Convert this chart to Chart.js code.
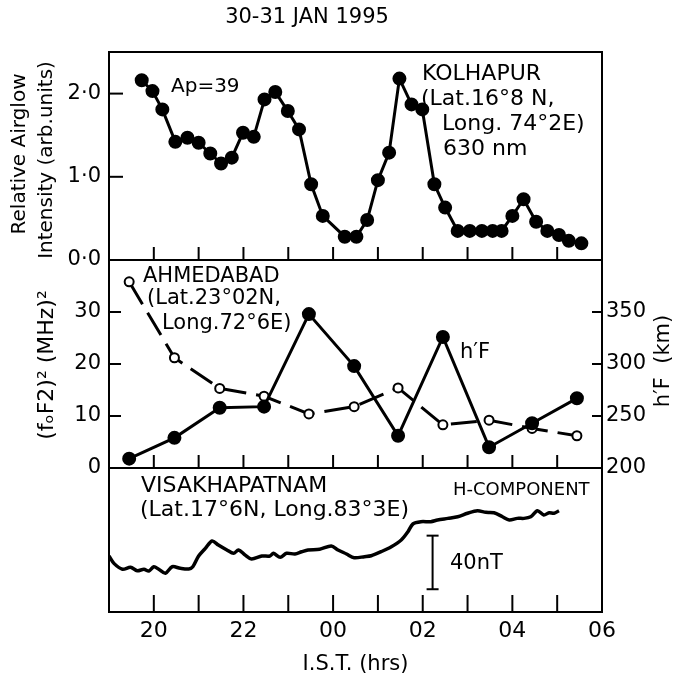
<!DOCTYPE html>
<html>
<head>
<meta charset="utf-8">
<script src="https://cdn.jsdelivr.net/npm/chart.js@4.4.1/dist/chart.umd.min.js"></script>
<style>
  html, body { margin: 0; padding: 0; background: #fff; }
</style>
</head>
<body>
<canvas id="graph" width="688" height="680"></canvas>
<script>
// Kolhapur 630 nm airglow (IST hours, 24 = 00 h next day)
const airglowHours = [19.73, 19.97, 20.19, 20.48, 20.75, 21.0, 21.26, 21.5, 21.74, 21.99, 22.23, 22.47,
  22.71, 22.99, 23.24, 23.51, 23.77, 24.26, 24.52, 24.76, 25.0, 25.25, 25.48, 25.75, 25.99, 26.26,
  26.5, 26.78, 27.05, 27.32, 27.56, 27.76, 28.0, 28.25, 28.53, 28.78, 29.04, 29.26, 29.54];
const airglowValues = [2.16, 2.03, 1.81, 1.42, 1.47, 1.41, 1.28, 1.16, 1.23, 1.53, 1.48, 1.93,
  2.02, 1.79, 1.57, 0.91, 0.53, 0.28, 0.28, 0.48, 0.96, 1.29, 2.18, 1.87, 1.81, 0.91,
  0.63, 0.35, 0.35, 0.35, 0.35, 0.35, 0.53, 0.73, 0.46, 0.35, 0.30, 0.23, 0.20];

// Ahmedabad ionosonde
const ionoHours = [19.45, 20.46, 21.47, 22.46, 23.46, 24.47, 25.45, 26.45, 27.48, 28.44, 29.44];
const foF2Squared = [35.8, 21.2, 15.3, 13.8, 10.4, 11.8, 15.4, 8.3, 9.2, 7.6, 6.2];
const hPrimeF = [209, 229, 258, 259, 348, 298, 231, 326, 220, 243, 267];

// Visakhapatnam H component (nT above panel floor)
const hCompHours = [19.0, 19.11, 19.3, 19.48, 19.63, 19.78, 19.89, 20.0, 20.11, 20.26, 20.41, 20.59,
  20.78, 20.87, 21.0, 21.15, 21.3, 21.44, 21.63, 21.78, 21.89, 22.04, 22.18, 22.41, 22.59, 22.67,
  22.82, 22.96, 23.15, 23.3, 23.44, 23.7, 23.96, 24.11, 24.3, 24.47, 24.7, 24.85, 25.07, 25.3,
  25.52, 25.67, 25.78, 25.96, 26.18, 26.33, 26.56, 26.78, 27.0, 27.22, 27.41, 27.59, 27.78, 27.93,
  28.11, 28.26, 28.41, 28.56, 28.7, 28.82, 28.93, 29.04];
const hCompValues = [41.8, 36.3, 31.9, 33.4, 30.8, 31.9, 30.6, 33.8, 31.9, 28.9, 33.8, 32.6,
  32.1, 33.8, 41.8, 47.5, 53.0, 50.0, 46.3, 43.8, 46.3, 42.5, 39.6, 41.8, 41.8, 43.8,
  40.8, 43.8, 43.3, 45.0, 46.3, 46.8, 49.3, 46.3, 43.3, 40.5, 41.3, 42.0, 45.0, 48.7,
  53.7, 59.9, 65.7, 67.4, 67.4, 68.7, 69.9, 71.1, 73.7, 75.6, 74.4, 74.1, 71.1, 68.7,
  69.9, 69.9, 71.1, 75.6, 72.4, 74.1, 73.7, 75.6];

// 40 nT scale bar
const barHours = [26.22, 26.22];
const barValues = [17, 57];

// tick labels
const xTickValues = [20, 22, 24, 26, 28, 30];
const xTickLabels = ['20', '22', '00', '02', '04', '06'];
const y1TickValues = [0, 1, 2];
const y1TickLabels = ['0·0', '1·0', '2·0'];

const pts = (xs, ys) => xs.map((x, i) => ({ x: x, y: ys[i] }));
const FONT = 'DejaVu Sans';

const framePlugin = {
  id: 'frame',
  afterDatasetsDraw(chart) {
    const { ctx, chartArea: a, scales } = chart;
    const line = (x1, y1, x2, y2) => {
      ctx.beginPath(); ctx.moveTo(x1, y1); ctx.lineTo(x2, y2); ctx.stroke();
    };
    ctx.save();
    ctx.strokeStyle = '#000';
    ctx.lineWidth = 2;
    ctx.strokeRect(a.left, a.top, a.right - a.left, a.bottom - a.top);
    ['y1', 'y2'].forEach(id => line(a.left, scales[id].bottom, a.right, scales[id].bottom));

    // inward hour ticks at the foot of each panel
    ['y1', 'y2', 'y3'].forEach(id => {
      const b = scales[id].bottom;
      const len = id === 'y3' ? 17 : 13;
      scales.x.ticks.forEach(t => {
        if (t.value <= scales.x.min || t.value >= scales.x.max) return;
        const px = scales.x.getPixelForValue(t.value);
        line(px, b, px, b - len);
      });
    });
    // inward value ticks
    [['y1', 14, 'left'], ['y2', 12, 'left'], ['r2', 10, 'right']].forEach(([id, len, side]) => {
      const s = scales[id];
      s.ticks.forEach(t => {
        if (t.value <= s.min || t.value >= s.max) return;
        const py = s.getPixelForValue(t.value);
        if (side === 'left') line(a.left, py, a.left + len, py);
        else line(a.right, py, a.right - len, py);
      });
    });

    // annotations
    ctx.fillStyle = '#000';
    ctx.textBaseline = 'middle';
    ctx.textAlign = 'left';
    const notes = [
      ['Ap=39', 171, 87, 20],
      ['KOLHAPUR', 422, 74, 22],
      ['(Lat.16°8 N,', 421, 99, 22],
      ['Long. 74°2E)', 442, 124, 22],
      ['630 nm', 443, 149, 22],
      ['AHMEDABAD', 143, 277, 21],
      ['(Lat.23°02N,', 147, 299, 21],
      ['Long.72°6E)', 162, 324, 21],
      ['h′F', 460, 353, 21],
      ['VISAKHAPATNAM', 141, 486, 22],
      ['(Lat.17°6N, Long.83°3E)', 140, 510, 22],
      ['H-COMPONENT', 453, 490, 18],
      ['40nT', 450, 564, 21]
    ];
    notes.forEach(([t, x, y, size]) => {
      ctx.font = size + 'px "' + FONT + '"';
      ctx.fillText(t, x, y);
    });

    ctx.textAlign = 'center';
    ctx.font = '21px "' + FONT + '"';
    ctx.fillText('30-31 JAN 1995', 307, 18);

    // rotated axis titles
    const vtext = (t, x, y) => {
      ctx.save(); ctx.translate(x, y); ctx.rotate(-Math.PI / 2);
      ctx.fillText(t, 0, 0); ctx.restore();
    };
    ctx.font = '20px "' + FONT + '"';
    vtext('Relative Airglow', 20, 154);
    vtext('Intensity (arb.units)', 47, 160);
    ctx.font = '22px "' + FONT + '"';
    vtext('(fₒF2)² (MHz)²', 47, 365);
    ctx.font = '21px "' + FONT + '"';
    vtext('h′F  (km)', 664, 361);
    ctx.restore();
  }
};

const leftW = s => { s.width = 109; };
const rightW = s => { s.width = 86; };
const tickFont = { family: FONT, size: 21 };

new Chart(document.getElementById('graph'), {
  type: 'line',
  data: {
    datasets: [
      {
        label: 'Airglow 630 nm',
        data: pts(airglowHours, airglowValues),
        yAxisID: 'y1',
        borderColor: '#000', backgroundColor: '#000',
        borderWidth: 3, pointRadius: 5.5, pointHoverRadius: 5.5
      },
      {
        label: "h'F",
        data: pts(ionoHours, hPrimeF),
        yAxisID: 'r2',
        borderColor: '#000', backgroundColor: '#000',
        borderWidth: 3, pointRadius: 5.5
      },
      {
        label: '(foF2)^2',
        data: pts(ionoHours, foF2Squared),
        yAxisID: 'y2',
        borderColor: '#000', pointBackgroundColor: '#fff', pointBorderColor: '#000',
        borderWidth: 3, borderDash: [26, 10], pointRadius: 4.5, pointBorderWidth: 2
      },
      {
        label: 'H-component',
        data: pts(hCompHours, hCompValues),
        yAxisID: 'y3',
        borderColor: '#000', borderWidth: 3.5, pointRadius: 0, tension: 0.3
      },
      {
        label: '40 nT',
        data: pts(barHours, barValues),
        yAxisID: 'y3',
        borderColor: '#000', backgroundColor: '#000', borderWidth: 2,
        pointStyle: 'line', pointRadius: 6, pointBorderWidth: 2
      }
    ]
  },
  options: {
    responsive: false,
    animation: false,
    devicePixelRatio: 1,
    layout: { padding: { top: 52, left: 0, right: 0, bottom: 0 } },
    plugins: { legend: { display: false }, tooltip: { enabled: false } },
    scales: {
      x: {
        type: 'linear', min: 19, max: 30,
        grid: { display: false, drawTicks: false },
        border: { display: false },
        ticks: {
          stepSize: 1, autoSkip: false, maxRotation: 0, padding: 6,
          color: '#000', font: { family: FONT, size: 22 },
          callback: v => { const i = xTickValues.indexOf(v); return i < 0 ? '' : xTickLabels[i]; }
        },
        title: { display: true, text: 'I.S.T. (hrs)', color: '#000', font: { family: FONT, size: 21 }, padding: { top: 0, bottom: 3 } },
        afterFit: s => { s.height = 68; }
      },
      // left stack is laid out in reverse order, so the bottom panel comes first
      y3: {
        type: 'linear', position: 'left', stack: 'L', stackWeight: 144,
        min: 0, max: 107.5,
        grid: { display: false, drawTicks: false }, border: { display: false },
        ticks: { display: false },
        afterFit: leftW
      },
      y2: {
        type: 'linear', position: 'left', stack: 'L', stackWeight: 208,
        min: 0, max: 40,
        grid: { display: false, drawTicks: false }, border: { display: false },
        ticks: {
          stepSize: 10, padding: 8, color: '#000', font: tickFont,
          callback: v => v >= 40 ? '' : String(v)
        },
        afterFit: leftW
      },
      y1: {
        type: 'linear', position: 'left', stack: 'L', stackWeight: 208,
        min: 0, max: 2.5,
        grid: { display: false, drawTicks: false }, border: { display: false },
        ticks: {
          stepSize: 0.5, padding: 8, color: '#000', font: tickFont,
          callback: v => { const i = y1TickValues.indexOf(v); return i < 0 ? '' : y1TickLabels[i]; }
        },
        afterFit: leftW
      },
      r1: {
        type: 'linear', position: 'right', stack: 'R', stackWeight: 208,
        min: 0, max: 1,
        grid: { display: false, drawTicks: false }, border: { display: false },
        ticks: { display: false },
        afterFit: rightW
      },
      r2: {
        type: 'linear', position: 'right', stack: 'R', stackWeight: 208,
        min: 200, max: 400,
        grid: { display: false, drawTicks: false }, border: { display: false },
        ticks: {
          stepSize: 50, padding: 4, color: '#000', font: tickFont,
          callback: v => v >= 400 ? '' : String(v)
        },
        afterFit: rightW
      },
      r3: {
        type: 'linear', position: 'right', stack: 'R', stackWeight: 144,
        min: 0, max: 1,
        grid: { display: false, drawTicks: false }, border: { display: false },
        ticks: { display: false },
        afterFit: rightW
      }
    }
  },
  plugins: [framePlugin]
});
</script>
</body>
</html>
